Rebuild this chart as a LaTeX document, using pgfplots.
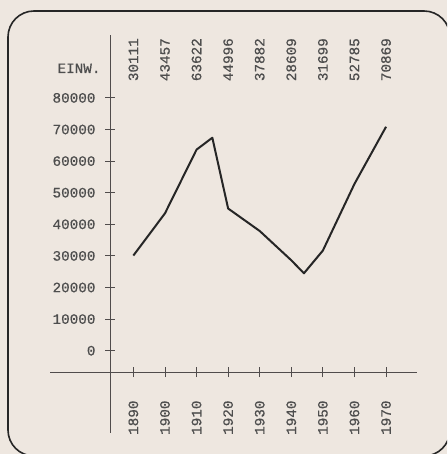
\documentclass[border=0pt]{standalone}
\usepackage{pgfplots}
\pgfplotsset{compat=1.18}
\usepackage{fontspec}
\setmainfont{Liberation Mono}[FakeBold=0.5]
\definecolor{paper}{RGB}{238,231,224}
\definecolor{ink}{RGB}{38,38,38}
\definecolor{txt}{RGB}{78,78,78}
\definecolor{axisc}{RGB}{80,76,76}
\begin{document}
\begin{tikzpicture}[x=1pt,y=1pt]
% pixel (px,py) -> (px-110, 372-py)
\fill[paper] (-110,-82) rectangle (337,372);
\begin{scope}
\clip (-110,-82) rectangle (337,372);
\draw[ink, line width=1.6pt, rounded corners=26pt] (-102,361) rectangle (340,-84);
\end{scope}
\begin{axis}[
  at={(0,0)}, anchor=south west, scale only axis,
  width=307pt, height=337.3pt,
  xmin=1882.6, xmax=1979.8, ymin=-6740, ymax=100000,
  scaled x ticks=false, scaled y ticks=false,
  axis lines*=left,
  axis line style={axisc, line width=0.9pt},
  clip=false,
  xtick={1890,1900,1910,1920,1930,1940,1950,1960,1970},
  xticklabels={1890,1900,1910,1920,1930,1940,1950,1960,1970},
  ytick={0,10000,20000,30000,40000,50000,60000,70000,80000},
  yticklabels={0,10000,20000,30000,40000,50000,60000,70000,80000},
  tick align=center, major tick length=10pt,
  tick style={axisc, line width=0.9pt},
  ticklabel style={font=\fontsize{14.3}{16}\selectfont, text=txt},
  xticklabel style={rotate=90, anchor=east},
  xticklabel shift=20pt,
  yticklabel shift=6pt,
  extra y ticks={89370}, extra y tick labels={EINW.},
  extra y tick style={major tick length=0pt},
]
\draw[axisc, line width=0.9pt] (axis cs:1882.6,-6740) -- ++(-60pt,0pt);
\draw[axisc, line width=0.9pt] (axis cs:1882.6,-6740) -- ++(0pt,-61pt);
\addplot[ink, line width=2pt, line join=round] coordinates {
  (1890,30111) (1900,43457) (1910,63622) (1915,67400) (1920,44996)
  (1930,37882) (1940,28609) (1944,24500) (1950,31699) (1960,52785) (1970,70869)};
\end{axis}
\begin{axis}[
  at={(0,0)}, anchor=south west, scale only axis,
  width=307pt, height=337.3pt,
  xmin=1882.6, xmax=1979.8, ymin=-6740, ymax=100000,
  scaled x ticks=false, scaled y ticks=false,
  axis x line*=top, axis y line=none,
  axis line style={draw=none},
  xtick={1890,1900,1910,1920,1930,1940,1950,1960,1970},
  xticklabels={30111,43457,63622,44996,37882,28609,31699,52785,70869},
  major tick length=0pt,
  xticklabel style={rotate=90, anchor=east, font=\fontsize{14.3}{16}\selectfont, text=txt},
  ytick=\empty,
]
\end{axis}
\end{tikzpicture}
\end{document}
